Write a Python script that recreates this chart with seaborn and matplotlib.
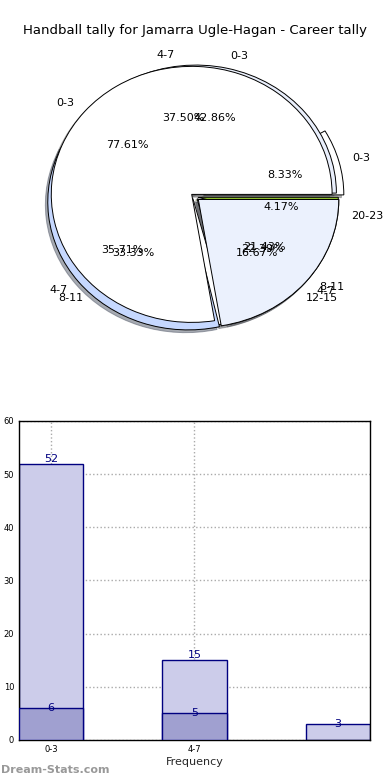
import numpy as np
import pandas as pd
import matplotlib
matplotlib.use("Agg")
import matplotlib.pyplot as plt
import seaborn as sns

# ---------------- data ----------------
title = "Handball tally for Jamarra Ugle-Hagan - Career tally"

# three overlaid pies (drawn back to front)
pie_c_labels = ["0-3", "4-7", "8-11", "12-15", "20-23"]
pie_c_values = [2, 9, 8, 4, 1]
pie_b_labels = ["0-3", "4-7", "8-11"]
pie_b_values = [6, 5, 3]
pie_a_labels = ["0-3", "4-7"]
pie_a_values = [52, 15]

# bar chart
bar_cats = ["0-3", "4-7", "8-11"]
bar_light = [52, 15, 3]
bar_dark_cats = ["0-3", "4-7"]
bar_dark = [6, 5]

# ---------------- figure ----------------
sns.set_style("white")
plt.rcParams["font.family"] = ["DejaVu Sans"]
plt.rcParams["text.color"] = "black"
plt.rcParams["xtick.color"] = "black"
plt.rcParams["ytick.color"] = "black"

fig = plt.figure(figsize=(3.9, 7.8), dpi=100)
fig.text(0.5, 0.9615, title, ha="center", va="center", fontsize=9.5)

# pie part
ax1 = fig.add_axes([0.036, 0.536, 0.928, 0.423])
wp = {"edgecolor": "black", "linewidth": 0.7}
tp = {"fontsize": 8}
sh = {"ox": -0.012, "oy": -0.015, "shade": 0.6}
r = 0.97

ax1.pie(pie_c_values, labels=pie_c_labels, autopct="%1.2f%%", radius=r,
        colors=["white", "white", "white", "white", "#9acd32"],
        explode=[0.06, 0.02, 0.02, 0.02, 0.02], shadow=sh,
        wedgeprops=wp, textprops=tp)
ax1.pie(pie_b_values, labels=pie_b_labels, autopct="%1.2f%%", radius=r,
        colors=["#e9effc", "#c6d8ff", "#dfe8fb"],
        explode=[0.03, 0.06, 0.03], shadow=sh,
        wedgeprops=wp, textprops=tp)
ax1.pie(pie_a_values, labels=pie_a_labels, autopct="%1.2f%%", radius=r,
        colors=["white", "#ebf1fd"],
        explode=[0.03, 0.03], shadow=sh,
        wedgeprops=wp, textprops=tp)
ax1.set_aspect("auto")
ax1.set_xlim(-1.25, 1.25)
ax1.set_ylim(-1.25, 1.25)
ax1.axis("off")

# bar part
ax2 = fig.add_axes([0.0487, 0.0513, 0.9, 0.409])
df_light = pd.DataFrame({"cat": bar_cats, "n": bar_light})
df_dark = pd.DataFrame({"cat": bar_dark_cats, "n": bar_dark})

sns.barplot(data=df_light, x="cat", y="n", order=bar_cats, width=0.45,
            color="#ccccea", edgecolor="#000080", linewidth=1.0,
            saturation=1, ax=ax2, zorder=2)
sns.barplot(data=df_dark, x="cat", y="n", order=bar_cats, width=0.45,
            color="#a0a0d0", edgecolor="#000080", linewidth=1.0,
            saturation=1, ax=ax2, zorder=3)

# value labels
for i, v in enumerate(bar_light):
    va = "bottom" if v > 10 else "center"
    ax2.text(i, v, str(v), ha="center", va=va, color="#000080", fontsize=8, zorder=5)
for i, v in enumerate(bar_dark):
    ax2.text(i, v, str(v), ha="center", va="center", color="#000080", fontsize=8, zorder=5)

ax2.set_xlim(-0.225, 2.225)
ax2.set_ylim(0, 60)
ax2.set_yticks(range(0, 61, 10))
ax2.set_xticks([0, 1])
ax2.set_xticklabels(bar_cats[:2])
ax2.tick_params(axis="both", labelsize=6, length=3, color="#999999", direction="in")
ax2.grid(True, linestyle=":", color="#aaaaaa", linewidth=1, zorder=0)
ax2.set_axisbelow(True)
ax2.set_xlabel("Frequency", fontsize=8, labelpad=2)
ax2.set_ylabel("")
for s in ax2.spines.values():
    s.set_color("black")
    s.set_linewidth(1)

fig.text(0.002, 0.0128, "Dream-Stats.com", color="#999999", fontsize=8,
         fontweight="bold", ha="left", va="center")

fig.savefig("out.png", dpi=100)
